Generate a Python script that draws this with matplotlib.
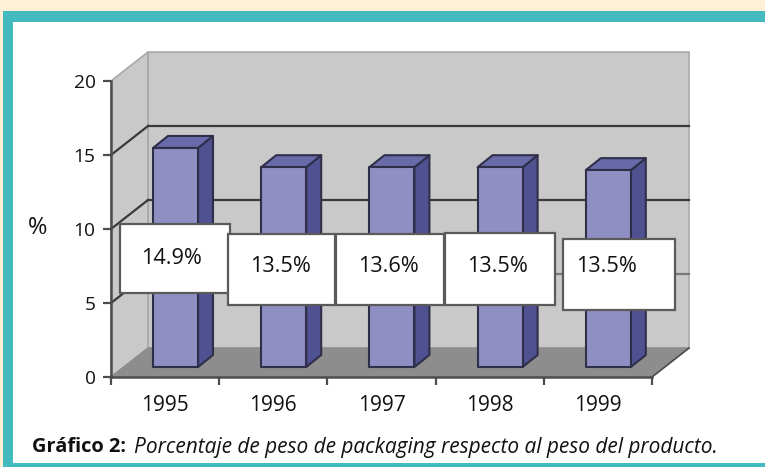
import matplotlib
matplotlib.use("Agg")
import matplotlib.pyplot as plt
from matplotlib.patches import Polygon, Rectangle

years = ["1995", "1996", "1997", "1998", "1999"]
bar_values = [14.8, 13.5, 13.5, 13.5, 13.3]
bar_labels = ["14.9%", "13.5%", "13.6%", "13.5%", "13.5%"]
y_ticks = [0, 5, 10, 15, 20]

W, H = 765, 467
plt.rcParams["font.family"] = ["Open Sans", "DejaVu Sans"]
fig = plt.figure(figsize=(W / 100, H / 100), dpi=100, facecolor="white")


def pixel_axes(zorder):
    a = fig.add_axes([0, 0, 1, 1], zorder=zorder)
    a.set_xlim(0, W)
    a.set_ylim(H, 0)
    a.axis("off")
    return a


# page frame
bg = pixel_axes(0)
bg.add_patch(Rectangle((0, 0), W, H, color="#fdf0d6", lw=0))
bg.add_patch(Rectangle((3, 11), W, H, color="#43babd", lw=0))
bg.add_patch(Rectangle((13, 22), W, 441, color="white", lw=0))

# chart axes = front plane of the fake 3D box
LEFT, RIGHT, Y0, Y20 = 111, 652, 377, 81
ax = fig.add_axes([LEFT / W, 1 - Y0 / H, (RIGHT - LEFT) / W, (Y0 - Y20) / H], zorder=1)
ax.set_xlim(0, len(years))
ax.set_ylim(0, 20)
ax.patch.set_alpha(0)
PX_X = len(years) / (RIGHT - LEFT)
PX_Y = 20 / (Y0 - Y20)
DX, DY = 37 * PX_X, 29 * PX_Y  # box depth
n = len(years)
ymax = y_ticks[-1]

wall = "#c9c9c9"
ax.add_patch(Polygon([(DX, DY), (n + DX, DY), (n + DX, ymax + DY), (DX, ymax + DY)],
                     fc=wall, ec="#a8a8a8", lw=1.2, clip_on=False, zorder=1))
ax.add_patch(Polygon([(0, 0), (DX, DY), (DX, ymax + DY), (0, ymax)],
                     fc=wall, ec="#a8a8a8", lw=1.2, clip_on=False, zorder=1))
ax.add_patch(Polygon([(0, 0), (n, 0), (n + DX, DY), (DX, DY)],
                     fc="#8d8d8d", ec="#8d8d8d", lw=1, clip_on=False, zorder=1.5))

for v in y_ticks[1:-1]:
    c = "#777777" if v == 5 else "#3a3a3a"
    ax.plot([DX, n + DX], [v + DY, v + DY], color=c, lw=1.6, clip_on=False, zorder=2)
    ax.plot([0, DX], [v, v + DY], color="#3a3a3a", lw=1.6, clip_on=False, zorder=2)

# bars
BAR_OFF, BAR_W = 42 * PX_X, 45 * PX_X
BAR_Y0 = 10 * PX_Y
DEPTH_X, DEPTH_Y = 15 * PX_X, 12 * PX_Y
for i, v in enumerate(bar_values):
    x0, x1 = i + BAR_OFF, i + BAR_OFF + BAR_W
    y0, y1 = BAR_Y0, BAR_Y0 + v
    style = dict(ec="#2f2f4a", lw=1.5, joinstyle="round", clip_on=False, zorder=3)
    ax.add_patch(Polygon([(x1, y0), (x1 + DEPTH_X, y0 + DEPTH_Y),
                          (x1 + DEPTH_X, y1 + DEPTH_Y), (x1, y1)], fc="#4f5190", **style))
    ax.add_patch(Polygon([(x0, y1), (x1, y1), (x1 + DEPTH_X, y1 + DEPTH_Y),
                          (x0 + DEPTH_X, y1 + DEPTH_Y)], fc="#686aa9", **style))
    ax.add_patch(Polygon([(x0, y0), (x1, y0), (x1, y1), (x0, y1)], fc="#8f8fc4", **style))

for s in ["top", "right"]:
    ax.spines[s].set_visible(False)
for s in ["left", "bottom"]:
    ax.spines[s].set_color("#4d4d4d")
    ax.spines[s].set_linewidth(1.8)
    ax.spines[s].set_zorder(4)
ax.plot([n, n + DX], [0, DY], color="#4d4d4d", lw=1.2, clip_on=False, zorder=2)

ax.set_yticks(y_ticks)
ax.set_xticks(range(n + 1))
ax.set_xticklabels([])
ax.set_xticks([i + 0.5 for i in range(n)], minor=True)
ax.set_xticklabels(years, minor=True, fontsize=15, color="#111111")
ax.tick_params(axis="x", which="minor", length=0, pad=13)
ax.tick_params(axis="both", which="major", length=6, width=1.6, color="#4d4d4d")
ax.tick_params(axis="y", labelsize=13.8, labelcolor="#111111", pad=5)

# overlay: label boxes and captions
top = pixel_axes(2)
top.patch.set_alpha(0)
boxes = [(120, 224, 110, 69), (228, 234, 107, 71), (336, 234, 108, 71),
         (445, 233, 110, 72), (563, 239, 112, 71)]
text_pos = [(172, 259), (281, 266), (388, 266), (498, 266), (607, 266)]
for (bx, by, bw, bh), (tx, ty), lab in zip(boxes, text_pos, bar_labels):
    top.add_patch(Rectangle((bx, by), bw, bh, fc="white", ec="#5a5a5a", lw=1.6))
    top.text(tx, ty, lab, ha="center", va="center", fontsize=15.6, color="#111111")

top.text(38, 228, "%", ha="center", va="center", fontsize=17, color="#111111")
top.text(32, 447, "Gráfico 2:", ha="left", va="center", fontsize=14.4,
         fontweight="bold", color="#111111")
top.text(134, 447, "Porcentaje de peso de packaging respecto al peso del producto.",
         ha="left", va="center", fontsize=15, fontstyle="italic", color="#111111")

fig.savefig("out.png", dpi=100)
